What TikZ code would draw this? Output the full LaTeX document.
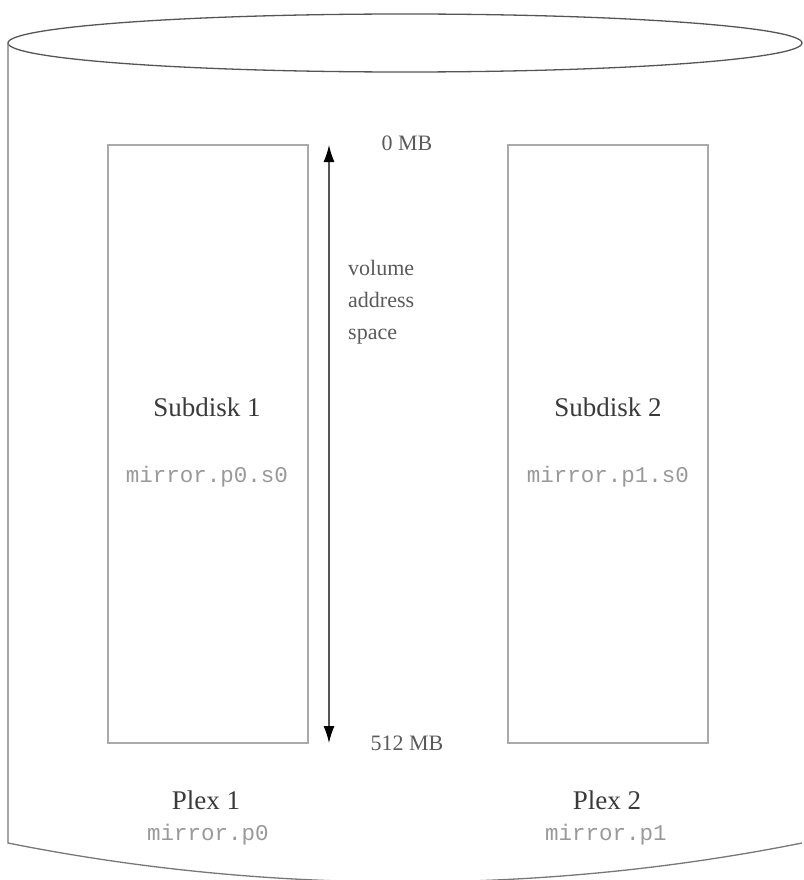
\documentclass[tikz,border=0pt]{standalone}
\usepackage{fontspec}
\setmainfont{Liberation Serif}
\setmonofont{Liberation Mono}
\usetikzlibrary{arrows.meta,positioning}

\definecolor{rimgray}{HTML}{555555}
\definecolor{boxgray}{HTML}{AAAAAA}
\definecolor{labelgray}{HTML}{3A3A3A}
\definecolor{namegray}{HTML}{999999}
\definecolor{notegray}{HTML}{5A5A5A}

\tikzset{
  subdisk/.style={draw=boxgray,line width=1.6pt,minimum width=200pt,
    minimum height=598pt,inner sep=0pt},
  biglabel/.style={text=labelgray,inner sep=0pt,anchor=base,
    font=\fontsize{27}{32}\selectfont},
  objname/.style={text=namegray,inner sep=0pt,anchor=base,
    font=\ttfamily\fontsize{22.5}{28}\selectfont},
  note/.style={text=notegray,inner sep=0pt,
    font=\fontsize{22}{32}\selectfont}
}

\begin{document}
\begin{tikzpicture}[x=1pt,y=-1pt]
  \useasboundingbox (0,0) rectangle (803,880);
  \clip (0,0) rectangle (803,880);
  % the volume drum
  \draw[rimgray,line width=1.3pt] (405,43) ellipse [x radius=397, y radius=29];
  \draw[rimgray!80,line width=1.3pt] (8,43) -- (8,843)
    .. controls (268,895) and (542,895) .. (802,843);
  % the two subdisks
  \node[subdisk] (sd1) at (208,444) {};
  \node[subdisk] (sd2) at (608,444) {};
  \node[biglabel] (sd1name) at (207,416) {Subdisk 1};
  \node[objname] (sd1obj) at (207,482) {mirror.p0.s0};
  \node[biglabel] (sd2name) at (608,416) {Subdisk 2};
  \node[objname] (sd2obj) at (608,482) {mirror.p1.s0};
  % address space
  \coordinate (vtop) at (329,145);
  \coordinate (vbot) at (329,743);
  \draw[rimgray,line width=1.3pt,{Latex[length=17pt,width=11pt,black]}-{Latex[length=17pt,width=11pt,black]}]
    (vtop) -- (vbot);
  \node[note,anchor=base] (top) at (407,150) {0 MB};
  \node[note,anchor=base] (bot) at (407,750) {512 MB};
  \node[note,anchor=west,align=left] (space) at (348,302) {volume\\address\\space};
  % plexes
  \node[biglabel] (p1name) at (206,809) {Plex 1};
  \node[objname] (p1obj) at (208,840) {mirror.p0};
  \node[biglabel] (p2name) at (607,809) {Plex 2};
  \node[objname] (p2obj) at (606,840) {mirror.p1};
\end{tikzpicture}
\end{document}
